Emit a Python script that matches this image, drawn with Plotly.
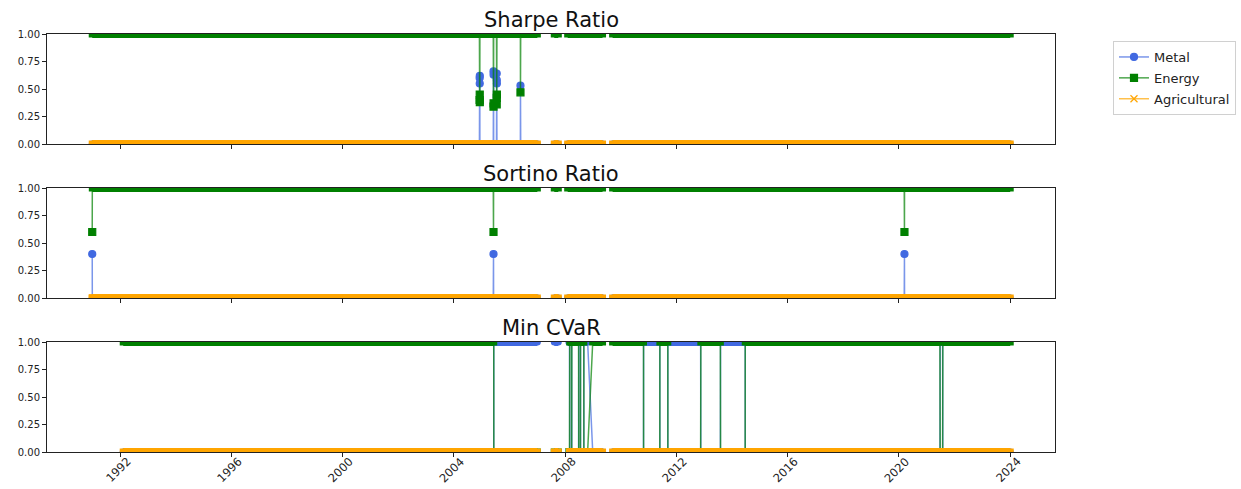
import plotly.graph_objects as go

# ---------------------------------------------------------------------------
# Portfolio weights per optimisation strategy (None marks missing data)
# ---------------------------------------------------------------------------
SERIES = ["Metal", "Energy", "Agricultural"]
COLORS = {"Metal": "#4169E1", "Energy": "#008000", "Agricultural": "#FFA500"}
LINE_COLORS = {"Metal": "rgba(65,105,225,0.7)", "Energy": "rgba(0,128,0,0.7)",
               "Agricultural": "rgba(255,165,0,0.7)"}
SYMBOLS = {"Metal": "circle", "Energy": "square", "Agricultural": "x-thin"}
# ends of a run of daily markers (the orange crosses pack into a solid bar)
BAND_END_SYMBOLS = {"Metal": "circle", "Energy": "square", "Agricultural": "square"}

sharpe_dates = [
    "1991-01-01", "2004-12-03", "2004-12-06", "2004-12-07", "2004-12-08", "2004-12-09",
    "2005-06-03", "2005-06-06", "2005-06-07", "2005-06-08",
    "2005-07-15", "2005-07-18", "2005-07-19", "2005-07-20", "2005-07-21",
    "2006-05-25", "2006-05-26", "2006-05-29", "2007-01-03", None,
    "2007-08-13", "2007-10-05", None,
    "2008-02-05", "2009-05-08", None,
    "2009-09-17", "2024-01-04",
]
sharpe_metal = [
    0, 0, 0.60, 0.55, 0.62, 0,
    0, 0.66, 0.63, 0,
    0, 0.64, 0.58, 0.55, 0,
    0, 0.53, 0, 0, None,
    0, 0, None,
    0, 0, None,
    0, 0,
]
sharpe_energy = [
    1, 1, 0.40, 0.45, 0.38, 1,
    1, 0.34, 0.37, 1,
    1, 0.36, 0.42, 0.45, 1,
    1, 0.47, 1, 1, None,
    1, 1, None,
    1, 1, None,
    1, 1,
]
sharpe_agri = [0 if v is not None else None for v in sharpe_metal]

sortino_dates = [
    "1991-01-01", "1991-01-02", "2005-06-03", "2005-06-06", "2005-06-07",
    "2007-01-03", None,
    "2007-08-13", "2007-10-05", None,
    "2008-02-05", "2009-05-08", None,
    "2009-09-17", "2020-03-13", "2020-03-16", "2020-03-17", "2024-01-04",
]
sortino_metal = [
    0.40, 0, 0, 0.40, 0,
    0, None,
    0, 0, None,
    0, 0, None,
    0, 0, 0.40, 0, 0,
]
sortino_energy = [
    0.60, 1, 1, 0.60, 1,
    1, None,
    1, 1, None,
    1, 1, None,
    1, 1, 0.60, 1, 1,
]
sortino_agri = [0 if v is not None else None for v in sortino_metal]

cvar_dates = [
    "1992-02-12", "2005-06-09", "2005-06-10", "2007-01-03", None,
    "2007-08-13", "2007-10-05", None,
    "2008-02-29", "2008-03-03", "2008-03-27", "2008-03-28", "2008-03-31",
    "2008-06-27", "2008-06-30", "2008-07-22", "2008-07-23",
    "2008-09-04", "2008-09-05", "2008-10-24", "2008-12-30", "2009-05-08", None,
    "2009-09-17", "2010-10-28", "2010-10-29", "2011-05-30", "2011-05-31",
    "2011-09-12", "2011-09-13", "2012-11-16", "2012-11-19",
    "2013-08-02", "2013-08-05", "2014-06-24", "2014-06-25",
    "2021-06-25", "2021-06-28", "2021-07-30", "2021-08-02", "2024-01-04",
]
cvar_metal = [
    0, 0, 1, 1, None,
    1, 1, None,
    1, 0, 0, 1, 0,
    0, 1, 1, 0,
    0, 1, 1, 0, 0, None,
    0, 0, 1, 1, 0,
    0, 1, 1, 0,
    0, 1, 1, 0,
    0, 1, 1, 0, 0,
]
cvar_energy = [None if m is None else 1 - m for m in cvar_metal]
cvar_agri = [0 if v is not None else None for v in cvar_metal]

STRATEGIES = [
    ("Sharpe Ratio", sharpe_dates, [sharpe_metal, sharpe_energy, sharpe_agri]),
    ("Sortino Ratio", sortino_dates, [sortino_metal, sortino_energy, sortino_agri]),
    ("Min CVaR", cvar_dates, [cvar_metal, cvar_energy, cvar_agri]),
]

TICK_YEARS = [1992, 1996, 2000, 2004, 2008, 2012, 2016, 2020, 2024]
Y_TICKS = [0, 0.25, 0.5, 0.75, 1.0]
X_RANGE = ["1989-05-17", "2025-08-14"]

# ---------------------------------------------------------------------------
FONT = "DejaVu Sans"
W, H = 1241, 489
LEFT, RIGHT, TOP, BOTTOM = 47, 1055, 34, 452          # plot area in px
PANELS_PX = [(34, 144), (188, 298), (342, 452)]       # top / bottom of panels
PH = BOTTOM - TOP


def py(px):
    """Pixel row -> paper y coordinate."""
    return (BOTTOM - px) / PH


def split_parts(dates, values):
    """Return flat-run segments and the isolated (non-flat) points."""
    band_x, band_y, spike_x, spike_y = [], [], [], []
    n = len(values)
    for i in range(n - 1):
        a, b = values[i], values[i + 1]
        if a is not None and b is not None and a == b:
            band_x += [dates[i], dates[i + 1], None]
            band_y += [a, b, None]
    for i in range(n):
        v = values[i]
        if v is None:
            continue
        prev_same = i > 0 and values[i - 1] == v
        next_same = i < n - 1 and values[i + 1] == v
        if not (prev_same or next_same):
            spike_x.append(dates[i])
            spike_y.append(v)
    return band_x, band_y, spike_x, spike_y


fig = go.Figure()

for k, (title, dates, vals) in enumerate(STRATEGIES):
    xa = "x" if k == 0 else f"x{k + 1}"
    ya = "y" if k == 0 else f"y{k + 1}"
    for name, values in zip(SERIES, vals):
        bx, by, sx, sy = split_parts(dates, values)
        # thin connecting line through every observation
        fig.add_trace(go.Scatter(
            x=dates, y=values, mode="lines", xaxis=xa, yaxis=ya,
            line=dict(color=LINE_COLORS[name], width=1.5),
            connectgaps=False, showlegend=False, hoverinfo="skip"))
        # dense daily markers merge into a thick band on flat stretches
        fig.add_trace(go.Scatter(
            x=bx, y=by, mode="lines+markers", xaxis=xa, yaxis=ya,
            line=dict(color=COLORS[name], width=8),
            marker=dict(symbol=BAND_END_SYMBOLS[name], size=7, color=COLORS[name],
                        line=dict(width=0)),
            showlegend=False, hoverinfo="skip"))
        # markers on the isolated observations
        if sx:
            fig.add_trace(go.Scatter(
                x=sx, y=sy, mode="markers", xaxis=xa, yaxis=ya,
                marker=dict(symbol=SYMBOLS[name], size=7, color=COLORS[name],
                            line=dict(color=COLORS[name], width=1.2)),
                showlegend=False, hoverinfo="skip"))

# legend entries
for i, name in enumerate(SERIES):
    fig.add_trace(go.Scatter(
        x=[None], y=[None], mode="lines+markers", name=name,
        legendgroup=name,
        line=dict(color=LINE_COLORS[name], width=1.5),
        marker=dict(symbol=SYMBOLS[name], size=7, color=COLORS[name],
                    line=dict(color=COLORS[name], width=1.2))))

layout = dict(
    width=W, height=H,
    margin=dict(l=LEFT, r=W - RIGHT, t=TOP, b=H - BOTTOM, autoexpand=False),
    paper_bgcolor="white", plot_bgcolor="white",
    font=dict(family=FONT, size=10, color="#222"),
    showlegend=True,
    legend=dict(x=(1113 - LEFT) / (RIGHT - LEFT), y=py(41),
                xanchor="left", yanchor="top",
                bgcolor="white", bordercolor="#d0d0d0", borderwidth=1,
                font=dict(family=FONT, size=13, color="#222"),
                itemwidth=30, tracegroupgap=1),
)

annotations = []
for k, (title, _, _) in enumerate(STRATEGIES):
    top, bot = PANELS_PX[k]
    xkey = "xaxis" if k == 0 else f"xaxis{k + 1}"
    ykey = "yaxis" if k == 0 else f"yaxis{k + 1}"
    axis_common = dict(showline=True, mirror=True, linecolor="#222", linewidth=1,
                       ticks="outside", ticklen=4, tickwidth=1, tickcolor="#222",
                       showgrid=False, zeroline=False, automargin=False)
    layout[xkey] = dict(
        domain=[0, 1], type="date", range=X_RANGE,
        tickvals=[f"{y}-01-01" for y in TICK_YEARS],
        showticklabels=False,
        anchor="y" if k == 0 else f"y{k + 1}",
        **axis_common)
    layout[ykey] = dict(
        domain=[py(bot), py(top)], range=[0, 1],
        tickvals=Y_TICKS, ticktext=[f"{v:.2f}" for v in Y_TICKS],
        anchor="x" if k == 0 else f"x{k + 1}",
        **axis_common)
    annotations.append(dict(
        text=title, x=0.5, y=py(top - 14),
        xref="paper", yref="paper", xanchor="center", yanchor="middle",
        showarrow=False, font=dict(family=FONT, size=21, color="#111")))

# rotated year labels centred under the ticks of the bottom panel
for yr in TICK_YEARS:
    annotations.append(dict(
        text=str(yr), x=f"{yr}-01-01", y=py(470), xref="x3", yref="paper",
        xanchor="center", yanchor="middle", textangle=-45, showarrow=False,
        xshift=-2, font=dict(family=FONT, size=11.5, color="#222")))

layout["annotations"] = annotations
fig.update_layout(**layout)
fig.write_html("out.html")
